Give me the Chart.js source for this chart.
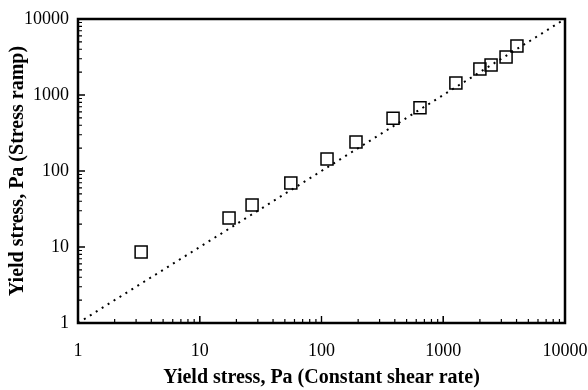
<!DOCTYPE html>
<html>
<head>
<meta charset="utf-8">
<script src="https://cdn.jsdelivr.net/npm/chart.js@4/dist/chart.umd.min.js"></script>
<style>
  html, body { margin: 0; padding: 0; background: #fff; }
  canvas { display: block; }
</style>
</head>
<body>
<canvas id="grafico" width="588" height="390"></canvas>
<script>
// dados (Pa)
const taxaConstante = [3.3, 17.4, 26.9, 56, 111, 192, 387, 644, 1270, 2000, 2470, 3280, 4030];
const rampaTensao   = [8.6, 24.1, 35.6, 69.5, 144, 241, 496, 680, 1440, 2200, 2480, 3160, 4400];
const linhaIgual = [1, 10000];
const marcas = [1, 10, 100, 1000, 10000];

const fonte = "'Liberation Serif', 'Times New Roman', serif";

const pontos = taxaConstante.map((x, i) => ({ x: x, y: rampaTensao[i] }));
const diagonal = linhaIgual.map((v) => ({ x: v, y: v }));

// moldura e marcas internas, usando as escalas do gráfico
const molduraPlugin = {
  id: "moldura",
  afterDatasetsDraw(chart) {
    const { ctx, chartArea: a, scales } = chart;
    ctx.save();
    ctx.strokeStyle = "#000";
    ctx.lineWidth = 1.2;
    for (let d = 1; d < 10000; d *= 10) {
      for (let k = 1; k <= 10; k++) {
        const v = d * k;
        const len = k === 1 || k === 10 ? 7 : 4;
        const px = scales.x.getPixelForValue(v);
        const py = scales.y.getPixelForValue(v);
        ctx.beginPath();
        ctx.moveTo(px, a.bottom);
        ctx.lineTo(px, a.bottom - len);
        ctx.moveTo(a.left, py);
        ctx.lineTo(a.left + len, py);
        ctx.stroke();
      }
    }
    ctx.lineWidth = 2.5;
    ctx.strokeRect(a.left, a.top, a.right - a.left, a.bottom - a.top);
    ctx.restore();
  },
};

new Chart(document.getElementById("grafico"), {
  type: "scatter",
  data: {
    datasets: [
      {
        type: "line",
        data: diagonal,
        borderColor: "#000",
        borderWidth: 2,
        borderDash: [2, 5],
        pointRadius: 0,
        fill: false,
      },
      {
        data: pontos,
        pointStyle: "rect",
        pointRadius: 8.5,
        pointBorderWidth: 1.5,
        borderColor: "#000",
        backgroundColor: "rgba(0,0,0,0)",
      },
    ],
  },
  options: {
    responsive: false,
    animation: false,
    devicePixelRatio: 1,
    layout: { padding: { top: 19, right: 23, left: 0, bottom: 0 } },
    plugins: { legend: { display: false }, tooltip: { enabled: false } },
    scales: {
      x: {
        type: "logarithmic",
        min: 1,
        max: 10000,
        afterBuildTicks: (s) => { s.ticks = marcas.map((v) => ({ value: v })); },
        afterFit: (s) => { s.height = 67; s.paddingLeft = 0; s.paddingRight = 0; },
        grid: { display: false, drawTicks: false },
        border: { display: false },
        ticks: {
          color: "#000",
          padding: 17,
          maxRotation: 0,
          font: { family: fonte, size: 18 },
          callback: (v) => String(v),
        },
        title: {
          display: true,
          text: "Yield stress, Pa (Constant shear rate)",
          color: "#000",
          font: { family: fonte, size: 20, weight: "bold" },
          padding: { top: 4, bottom: 0 },
        },
      },
      y: {
        type: "logarithmic",
        min: 1,
        max: 10000,
        afterBuildTicks: (s) => { s.ticks = marcas.map((v) => ({ value: v })); },
        afterFit: (s) => { s.width = 78; s.paddingTop = 0; s.paddingBottom = 0; },
        grid: { display: false, drawTicks: false },
        border: { display: false },
        ticks: {
          color: "#000",
          padding: 9,
          font: { family: fonte, size: 18 },
          callback: (v) => String(v),
        },
        title: {
          display: true,
          text: "Yield stress, Pa (Stress ramp)",
          color: "#000",
          font: { family: fonte, size: 20, weight: "bold" },
          padding: { top: 6, bottom: 0 },
        },
      },
    },
  },
  plugins: [molduraPlugin],
});
</script>
</body>
</html>
